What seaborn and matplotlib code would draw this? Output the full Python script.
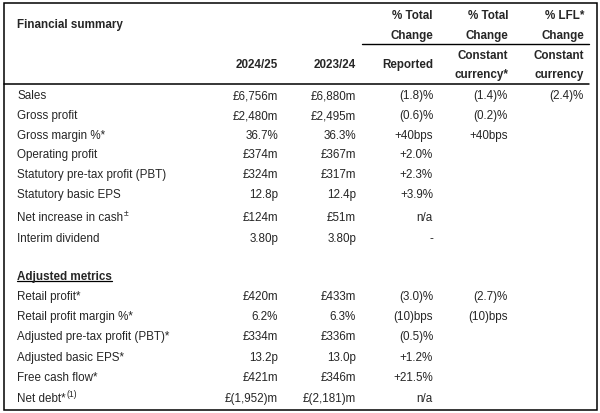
import matplotlib
matplotlib.use("Agg")
import matplotlib.pyplot as plt
import seaborn as sns
import pandas as pd

# table data
col_headers = ["2024/25", "2023/24", "Reported", "Constant\ncurrency*", "Constant\ncurrency"]
group_headers = ["", "", "% Total\nChange", "% Total\nChange", "% LFL*\nChange"]

# "^" marks the start of a superscript
summary_labels = ["Sales", "Gross profit", "Gross margin %*", "Operating profit",
                  "Statutory pre-tax profit (PBT)", "Statutory basic EPS",
                  "Net increase in cash^±", "Interim dividend"]
summary_fy25 = ["£6,756m", "£2,480m", "36.7%", "£374m", "£324m", "12.8p", "£124m", "3.80p"]
summary_fy24 = ["£6,880m", "£2,495m", "36.3%", "£367m", "£317m", "12.4p", "£51m", "3.80p"]
summary_reported = ["(1.8)%", "(0.6)%", "+40bps", "+2.0%", "+2.3%", "+3.9%", "n/a", "-"]
summary_constant = ["(1.4)%", "(0.2)%", "+40bps", "", "", "", "", ""]
summary_lfl = ["(2.4)%", "", "", "", "", "", "", ""]

adjusted_labels = ["Retail profit*", "Retail profit margin %*", "Adjusted pre-tax profit (PBT)*",
                   "Adjusted basic EPS*", "Free cash flow*", "Net debt*^(1)"]
adjusted_fy25 = ["£420m", "6.2%", "£334m", "13.2p", "£421m", "£(1,952)m"]
adjusted_fy24 = ["£433m", "6.3%", "£336m", "13.0p", "£346m", "£(2,181)m"]
adjusted_reported = ["(3.0)%", "(10)bps", "(0.5)%", "+1.2%", "+21.5%", "n/a"]
adjusted_constant = ["(2.7)%", "(10)bps", "", "", "", ""]
adjusted_lfl = ["", "", "", "", "", ""]

summary = pd.DataFrame({"label": summary_labels, "fy25": summary_fy25, "fy24": summary_fy24,
                        "reported": summary_reported, "constant": summary_constant, "lfl": summary_lfl})
adjusted = pd.DataFrame({"label": adjusted_labels, "fy25": adjusted_fy25, "fy24": adjusted_fy24,
                         "reported": adjusted_reported, "constant": adjusted_constant, "lfl": adjusted_lfl})

sns.set_theme(style="white")
plt.rcParams["font.family"] = ["Liberation Sans", "DejaVu Sans"]

fig = plt.figure(figsize=(6.0, 4.14), dpi=100)
ax = fig.add_axes([0, 0, 1, 1])
ax.set_xlim(0, 600)
ax.set_ylim(414, 0)
ax.axis("off")

fs = 8.4
base = 4.2  # baseline offset from row centre
col_right = [278, 356, 433, 508, 584]
value_cols = ["fy25", "fy24", "reported", "constant", "lfl"]

# frame and rules
ax.add_patch(plt.Rectangle((4, 4), 593, 407, fill=False, ec="black", lw=1.1))
ax.plot([4, 589], [85, 85], color="black", lw=1.1)
ax.plot([362, 589], [45, 45], color="black", lw=1.0)

# header
ax.text(17, 24 + base, "Financial summary", fontsize=fs, fontweight="bold", va="baseline")
for x, grp, hdr in zip(col_right, group_headers, col_headers):
    if grp:
        top, bottom = grp.split("\n")
        ax.text(x, 15 + base, top, fontsize=fs, fontweight="bold", ha="right", va="baseline")
        ax.text(x, 35 + base, bottom, fontsize=fs, fontweight="bold", ha="right", va="baseline")
    if "\n" in hdr:
        top, bottom = hdr.split("\n")
        ax.text(x, 55 + base, top, fontsize=fs, fontweight="bold", ha="right", va="baseline")
        ax.text(x, 74 + base, bottom, fontsize=fs, fontweight="bold", ha="right", va="baseline")
    else:
        ax.text(x, 64 + base, hdr, fontsize=fs, fontweight="bold", ha="right", va="baseline")

renderer = fig.canvas.get_renderer()


def draw_label(y, label):
    main, _, sup = label.partition("^")
    t = ax.text(17, y + base, main, fontsize=fs, va="baseline")
    if sup:
        bb = t.get_window_extent(renderer).transformed(ax.transData.inverted())
        ax.text(bb.x1 + 0.5, y + base - 5, sup, fontsize=6.2, va="baseline")


def draw_rows(df, ys):
    for y, (_, row) in zip(ys, df.iterrows()):
        draw_label(y, row["label"])
        for x, c in zip(col_right, value_cols):
            if row[c]:
                ax.text(x, y + base, row[c], fontsize=fs, ha="right", va="baseline")


draw_rows(summary, [95, 115, 135, 154, 174, 194, 217, 238])

t = ax.text(17, 276 + base, "Adjusted metrics", fontsize=fs, fontweight="bold", va="baseline")
bb = t.get_window_extent(renderer).transformed(ax.transData.inverted())
ax.plot([bb.x0, bb.x1], [282, 282], color="black", lw=0.9)

draw_rows(adjusted, [296, 316, 336, 357, 377, 398])

fig.savefig("out.png", dpi=100)
